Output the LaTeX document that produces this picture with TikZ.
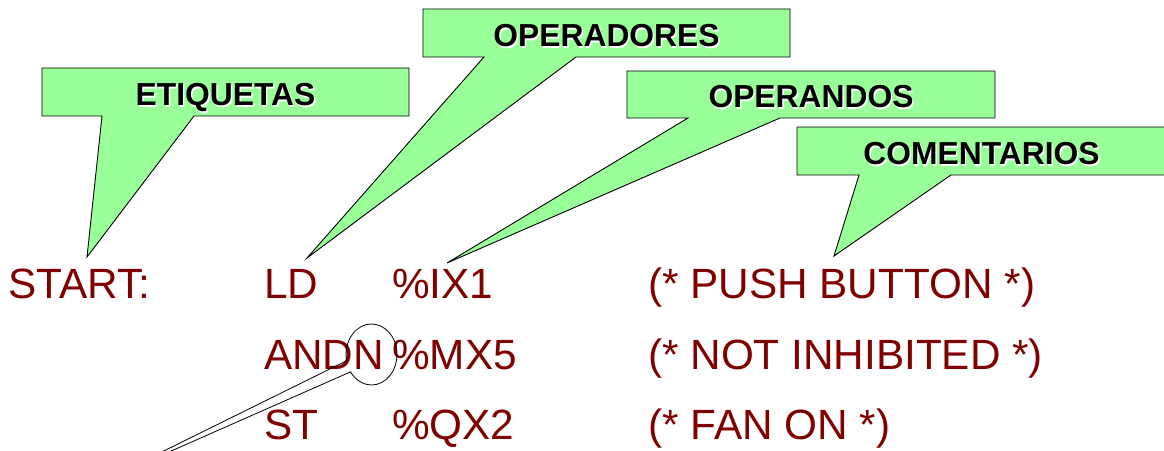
\documentclass[tikz,border=0pt]{standalone}
\usepackage{fontspec}
\setmainfont{Liberation Sans}
\definecolor{calloutgreen}{HTML}{99FF99}
\definecolor{codered}{HTML}{800000}
\begin{document}
\begin{tikzpicture}[x=1pt,y=1pt,
  bubble/.style={fill=calloutgreen, draw=black, line width=0.9pt, line join=miter},
  code/.style={anchor=base west, inner sep=0pt, text=codered, font=\fontsize{42.3}{42.3}\selectfont},
  tag/.style={anchor=base, inner sep=0pt, font=\bfseries\fontsize{31.8}{31.8}\selectfont},
  tagshadow/.style={tag, text=white, xshift=1.4pt, yshift=-1.4pt}]
\useasboundingbox (0,0) rectangle (1164,450);

% callout bubbles, each a box with a pointed tail
\draw[bubble] (42,382) -- (409,382) -- (409,334) -- (194,334) -- (87,193)
  -- (102,334) -- (42,334) -- cycle;
\draw[bubble] (423,441) -- (790,441) -- (790,393) -- (576,393) -- (307,192)
  -- (484,393) -- (423,393) -- cycle;
\draw[bubble] (627,379) -- (995,379) -- (995,332) -- (780,332) -- (447,187)
  -- (688,332) -- (627,332) -- cycle;
\begin{scope}
  \clip (0,0) rectangle (1164,450);
  \draw[bubble] (797,323) -- (1166,323) -- (1166,275) -- (951,275) -- (834,194)
    -- (859,275) -- (797,275) -- cycle;
\end{scope}

% bubble captions with a light drop shadow
\node[tagshadow] at (225.5,344) {ETIQUETAS};
\node[tag] (etiq) at (225.5,344) {ETIQUETAS};
\node[tagshadow] at (606.5,403) {OPERADORES};
\node[tag] (oper) at (606.5,403) {OPERADORES};
\node[tagshadow] at (811,342) {OPERANDOS};
\node[tag] (opnd) at (811,342) {OPERANDOS};
\node[tagshadow] at (981.5,285) {COMENTARIOS};
\node[tag] (coment) at (981.5,285) {COMENTARIOS};

% instruction list
\node[code] (lbl)  at (8,151)   {START:};
\node[code] (op1)  at (264,151) {LD};
\node[code] (arg1) at (392,151) {\%IX1};
\node[code] (cm1)  at (648,151) {(* PUSH BUTTON *)};
\node[code] (op2)  at (264,81)  {ANDN};
\node[code] (arg2) at (392,81)  {\%MX5};
\node[code] (cm2)  at (648,81)  {(* NOT INHIBITED *)};
\node[code] (op3)  at (264,11)  {ST};
\node[code] (arg3) at (392,11)  {\%QX2};
\node[code] (cm3)  at (648,11)  {(* FAN ON *)};

% ring callout around the negation modifier, tail leaving the page
\coordinate (ringc) at (371.5,95.5);
\coordinate (ringtip) at (101,-32);
\begin{scope}
  \clip (0,0) rectangle (1164,450);
  \draw[line width=0.8pt, line join=miter] (ringtip) -- ([shift={(214.7:25.5 and 30.5)}]ringc)
    arc[start angle=214.7, end angle=551.8, x radius=25.5, y radius=30.5] -- cycle;
\end{scope}
\end{tikzpicture}
\end{document}
